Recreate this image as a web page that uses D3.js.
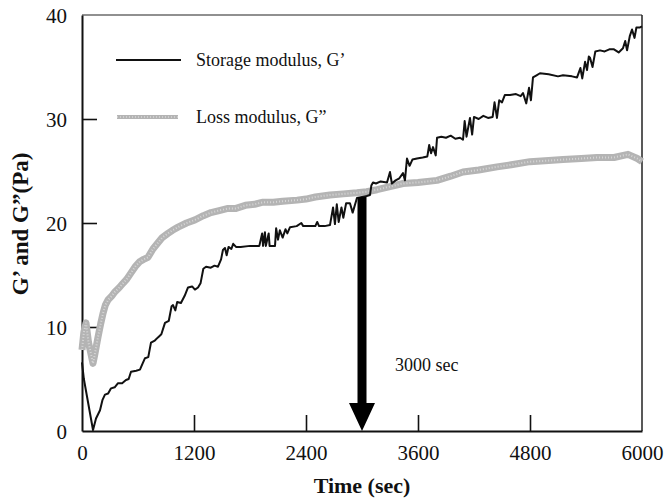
<!DOCTYPE html>
<html><head><meta charset="utf-8">
<script src="https://cdn.jsdelivr.net/npm/d3@7"></script>
<style>
html,body{margin:0;padding:0;background:#fff;}
svg{display:block;font-family:"Liberation Serif","Times New Roman",serif;}
</style></head>
<body>
<svg id="chart" width="664" height="498"></svg>
<script>
// ---- data ----
const storageTime = [0,20,118,150,193,220,246,280,311,350,386,430,471,500,525,580,621,650,675,710,739,780,814,850,889,930,960,975,1000,1020,1060,1100,1136,1180,1210,1243,1270,1300,1329,1380,1420,1457,1490,1510,1532,1550,1570,1600,1620,1650,1700,1800,1900,1930,1940,1960,1970,2000,2010,2068,2080,2100,2120,2150,2180,2200,2229,2300,2350,2370,2500,2520,2540,2600,2657,2690,2710,2730,2750,2780,2800,2830,2871,2900,2946,3000,3050,3086,3100,3118,3150,3200,3268,3300,3320,3360,3400,3439,3460,3482,3510,3540,3589,3650,3700,3720,3740,3761,3790,3804,3850,3900,3950,4000,4050,4082,4100,4120,4157,4180,4200,4250,4300,4350,4400,4420,4446,4470,4500,4530,4586,4650,4700,4725,4760,4790,4810,4832,4870,4907,5000,5100,5154,5250,5304,5340,5360,5390,5411,5430,5443,5470,5500,5550,5600,5650,5700,5750,5796,5820,5840,5870,5893,5920,5940,5979,6000];
const storageG = [6.6,5.0,0.1,1.2,2.0,3.0,3.5,3.6,4.1,4.2,4.6,4.6,4.9,5.0,5.7,5.8,5.9,6.5,7.0,7.1,8.5,8.7,9.0,9.3,10.4,10.6,12.0,12.1,11.6,12.4,12.3,13.0,13.8,13.9,13.6,13.8,14.2,15.6,15.8,15.7,15.9,15.8,16.5,17.4,17.6,16.9,17.7,17.5,18.0,17.7,17.7,17.8,17.8,19.0,17.8,19.1,17.8,19.0,17.8,17.8,19.5,18.4,19.3,18.6,19.4,19.0,19.6,19.7,20.0,19.7,19.7,20.1,19.7,19.7,19.8,21.5,19.9,21.8,20.1,21.5,20.5,21.9,21.9,21.0,22.4,22.5,22.6,22.7,23.6,23.9,23.8,24.0,23.9,24.9,23.8,24.1,24.3,24.8,24.1,26.2,25.5,26.1,26.2,26.3,26.4,27.5,26.7,27.3,26.5,28.2,28.3,28.2,28.4,28.1,28.2,28.0,29.8,28.3,30.1,28.5,30.2,30.0,30.3,30.1,30.2,31.6,30.1,31.8,31.6,32.3,32.3,32.4,32.2,32.5,31.5,33.0,31.8,34.0,34.2,34.4,34.3,34.1,34.2,34.1,34.0,34.9,33.9,35.5,34.7,36.0,35.9,35.0,36.5,36.6,36.5,36.7,36.7,36.4,36.8,37.5,36.6,38.0,38.6,37.8,38.8,38.8,38.9];

const lossTime = [0,20,43,70,118,140,171,200,225,250,279,320,354,400,439,480,525,570,621,660,707,760,814,860,921,970,1029,1120,1211,1300,1382,1470,1564,1650,1750,1850,1939,2050,2150,2304,2400,2500,2657,2800,2946,3050,3161,3300,3439,3600,3804,3950,4082,4250,4446,4600,4800,5000,5154,5350,5518,5700,5850,5950,6000];
const lossG = [7.8,9.5,10.4,8.5,6.5,7.5,9.0,10.3,11.3,12.1,12.6,13.0,13.4,13.8,14.2,14.6,15.2,15.8,16.3,16.5,16.7,17.5,18.1,18.6,19.0,19.3,19.6,20.0,20.3,20.7,21.0,21.2,21.4,21.4,21.7,21.8,22.0,22.0,22.1,22.2,22.3,22.5,22.7,22.8,22.9,23.0,23.2,23.5,23.8,23.9,24.1,24.5,24.9,25.1,25.4,25.6,25.9,26.0,26.1,26.2,26.3,26.3,26.6,26.2,25.9];

const xTicks = [0,1200,2400,3600,4800,6000];
const yTicks = [0,10,20,30,40];
const seriesNames = ["Storage modulus, G\u2019", "Loss modulus, G\u201D"];
const arrowTime = 3000, arrowTop = 22.5;
const arrowLabel = "3000 sec";
const xTitle = "Time (sec)";
const yTitle = "G\u2019 and G\u201D(Pa)";

// ---- drawing ----
const svg = d3.select("#chart");
const L = 82, R = 642, T = 15, B = 431;
const x = d3.scaleLinear().domain([0,6000]).range([L,R]);
const y = d3.scaleLinear().domain([0,40]).range([B,T]);

// frame (top & right)
svg.append("line").attr("x1",L).attr("x2",R).attr("y1",T).attr("y2",T).attr("stroke","#222").attr("stroke-width",1.2);
svg.append("line").attr("x1",R).attr("x2",R).attr("y1",T).attr("y2",B).attr("stroke","#222").attr("stroke-width",1.5);

// axes
const fmt = d3.format("d");
const xAxis = d3.axisBottom(x).tickValues(xTicks).tickFormat(fmt).tickSizeInner(-16).tickSizeOuter(0).tickPadding(22);
const yAxis = d3.axisLeft(y).tickValues(yTicks).tickFormat(fmt).tickSizeInner(-15).tickSizeOuter(0).tickPadding(27);
const gx = svg.append("g").attr("transform",`translate(0,${B})`).call(xAxis);
const gy = svg.append("g").attr("transform",`translate(${L},0)`).call(yAxis);
[gx,gy].forEach(g=>{
  g.select(".domain").attr("stroke","#111").attr("stroke-width",2);
  g.selectAll(".tick line").attr("stroke","#111").attr("stroke-width",1.6);
  g.selectAll(".tick text").attr("font-family","Liberation Serif").attr("font-size",21).attr("fill","#111");
});
gx.selectAll(".tick").filter(d=>d===0||d===6000).select("line").remove();
gy.selectAll(".tick").filter(d=>d===0||d===40).select("line").remove();
gx.selectAll(".tick text").attr("dy","0.35em");
gy.selectAll(".tick text").attr("dx","12").attr("dy","0.35em");

// series
const lossData = lossTime.map((t,i)=>[t,lossG[i]]);
const storData = storageTime.map((t,i)=>[t,storageG[i]]);
const line = d3.line().x(d=>x(d[0])).y(d=>y(d[1]));
svg.append("path").datum(lossData).attr("d",line).attr("fill","none")
  .attr("stroke","#b4b4b4").attr("stroke-width",7).attr("stroke-linejoin","round");
svg.append("path").datum(lossData).attr("d",line).attr("fill","none")
  .attr("stroke","#d6d6d6").attr("stroke-width",2).attr("stroke-dasharray","1,2");
svg.append("path").datum(storData).attr("d",line).attr("fill","none")
  .attr("stroke","#111").attr("stroke-width",2).attr("stroke-linejoin","round");

// arrow
const ax = x(arrowTime), ay0 = y(arrowTop), ay1 = y(0);
const bw = 4.5, hw = 13, hh = 28;
svg.append("path").attr("fill","#000").attr("d",
  `M${ax-bw},${ay0} L${ax+bw},${ay0} L${ax+bw},${ay1-hh} L${ax+hw},${ay1-hh} L${ax},${ay1} L${ax-hw},${ay1-hh} L${ax-bw},${ay1-hh} Z`);
svg.append("text").attr("x",ax+33).attr("y",371).attr("font-size",18).attr("fill","#111").text(arrowLabel);

// legend
svg.append("line").attr("x1",116).attr("x2",181).attr("y1",60).attr("y2",60).attr("stroke","#111").attr("stroke-width",2);
svg.append("text").attr("x",196).attr("y",66).attr("font-size",18).attr("fill","#111").text(seriesNames[0]);
svg.append("line").attr("x1",117).attr("x2",178).attr("y1",117).attr("y2",117).attr("stroke","#b4b4b4").attr("stroke-width",4);
svg.append("line").attr("x1",117).attr("x2",178).attr("y1",117).attr("y2",117).attr("stroke","#d6d6d6").attr("stroke-width",1.5).attr("stroke-dasharray","1,2");
svg.append("text").attr("x",196).attr("y",123).attr("font-size",18).attr("fill","#111").text(seriesNames[1]);

// titles
svg.append("text").attr("x",(L+R)/2).attr("y",493).attr("text-anchor","middle")
  .attr("font-size",22).attr("font-weight","bold").attr("fill","#111").text(xTitle);
svg.append("text").attr("transform","translate(28,224) rotate(-90)").attr("text-anchor","middle")
  .attr("font-size",23).attr("font-weight","bold").attr("fill","#111").text(yTitle);
</script>
</body></html>
